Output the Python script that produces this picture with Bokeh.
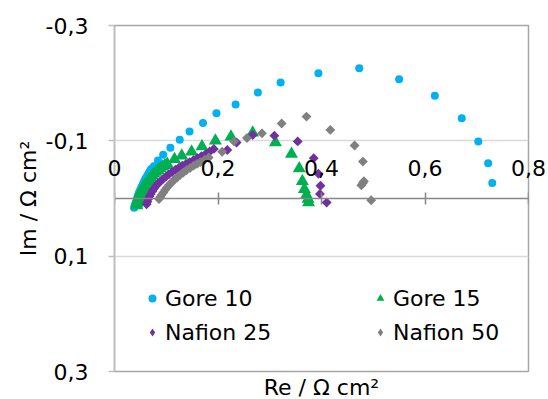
import numpy as np
from bokeh.plotting import figure
from bokeh.core.properties import value
from bokeh.models import (Range1d, FixedTicker, LinearAxis, CustomJSTickFormatter,
                          Legend, LegendItem, ColumnDataSource)
from bokeh.embed import file_html
from bokeh.resources import INLINE

# ---- data (Re, Im) in ohm cm2 ----
gore10_re = [0.730, 0.722, 0.703, 0.671, 0.619, 0.550, 0.473, 0.394, 0.321, 0.277,
             0.234, 0.197, 0.171, 0.145, 0.126, 0.108, 0.094, 0.084, 0.076, 0.071,
             0.069, 0.067, 0.065, 0.063, 0.061, 0.059, 0.0575, 0.056, 0.0545, 0.053,
             0.0515, 0.050, 0.0485, 0.047, 0.046, 0.045, 0.044, 0.043, 0.0415, 0.040,
             0.039, 0.038]
gore10_im = [-0.027, -0.061, -0.099, -0.139, -0.178, -0.207, -0.226, -0.217, -0.201, -0.184,
             -0.163, -0.148, -0.131, -0.116, -0.102, -0.088, -0.076, -0.066, -0.056, -0.051,
             -0.048, -0.045, -0.042, -0.039, -0.036, -0.033, -0.030, -0.027, -0.024, -0.021,
             -0.018, -0.015, -0.012, -0.009, -0.006, -0.003, 0.000, 0.003, 0.0065, 0.010,
             0.013, 0.016]

gore15_re = [0.375, 0.374, 0.371, 0.367, 0.363, 0.357, 0.342, 0.311, 0.267, 0.225,
             0.195, 0.169, 0.149, 0.130, 0.116, 0.102, 0.0975, 0.093, 0.0885, 0.084,
             0.080, 0.076, 0.073, 0.070, 0.067, 0.064, 0.0615, 0.059, 0.057, 0.055,
             0.053, 0.051, 0.0495, 0.048, 0.047, 0.046, 0.045, 0.044, 0.0435, 0.043]
gore15_im = [0.007, 0.001, -0.006, -0.016, -0.030, -0.052, -0.077, -0.097, -0.114, -0.107,
             -0.100, -0.090, -0.081, -0.074, -0.068, -0.060, -0.0575, -0.055, -0.052, -0.049,
             -0.046, -0.043, -0.0395, -0.036, -0.033, -0.030, -0.027, -0.024, -0.021, -0.018,
             -0.015, -0.012, -0.009, -0.006, -0.003, 0.000, 0.003, 0.006, 0.009, 0.012]

nafion25_re = [0.410, 0.397, 0.398, 0.394, 0.385, 0.354, 0.309, 0.267, 0.236, 0.218,
               0.192, 0.184, 0.176, 0.168, 0.160, 0.1525, 0.145, 0.138, 0.131, 0.1245,
               0.118, 0.1115, 0.105, 0.0995, 0.094, 0.089, 0.084, 0.080, 0.076, 0.073,
               0.070, 0.0675, 0.065, 0.0635, 0.062]
nafion25_im = [0.007, -0.008, -0.022, -0.043, -0.070, -0.099, -0.109, -0.110, -0.097, -0.084,
               -0.086, -0.0815, -0.077, -0.0735, -0.070, -0.0665, -0.063, -0.060, -0.057, -0.0535,
               -0.050, -0.046, -0.042, -0.038, -0.034, -0.030, -0.026, -0.0215, -0.017, -0.0125,
               -0.008, -0.0035, 0.001, 0.0055, 0.010]

nafion50_re = [0.496, 0.477, 0.482, 0.480, 0.480, 0.464, 0.417, 0.371, 0.323, 0.285,
               0.256, 0.231, 0.208, 0.182, 0.174, 0.166, 0.1595, 0.153, 0.146, 0.139,
               0.133, 0.127, 0.121, 0.115, 0.110, 0.105, 0.1015, 0.098, 0.0945, 0.091,
               0.0885, 0.086]
nafion50_im = [0.003, -0.023, -0.030, -0.027, -0.064, -0.092, -0.119, -0.142, -0.130, -0.113,
               -0.105, -0.099, -0.081, -0.071, -0.067, -0.063, -0.060, -0.057, -0.053, -0.049,
               -0.045, -0.041, -0.0365, -0.032, -0.0275, -0.023, -0.019, -0.015, -0.0105, -0.006,
               -0.0025, 0.001]

x_ticks = [0, 0.2, 0.4, 0.6, 0.8]
x_tick_labels = ["0", "0,2", "0,4", "0,6", "0,8"]
y_ticks = [-0.3, -0.1, 0.1, 0.3]

FONT = "DejaVu Sans"
FS = "22px"

p = figure(frame_width=414, frame_height=346,
           output_backend="svg", toolbar_location=None,
           x_range=Range1d(0, 0.8), y_range=Range1d(0.3, -0.3),
           x_axis_location=None, y_axis_location="left",
           min_border_left=114, min_border_right=20, min_border_top=25, min_border_bottom=0,
           background_fill_color="white", border_fill_color="white")

p.outline_line_color = "#A6A6A6"
p.outline_line_width = 1.5

fmt = CustomJSTickFormatter(code="return Math.abs(tick) < 1e-9 ? '0' : tick.toFixed(1).replace('.', ',')")

# y axis
yax = p.yaxis[0]
yax.ticker = FixedTicker(ticks=y_ticks)
yax.formatter = fmt
yax.axis_line_color = "#BFBFBF"
yax.axis_line_width = 1.5
yax.major_tick_line_color = "#BFBFBF"
yax.major_tick_line_width = 1.5
yax.major_tick_in = 0
yax.major_tick_out = 6
yax.minor_tick_line_color = None
yax.major_label_standoff = 20
yax.major_label_text_font = FONT
yax.major_label_text_font_size = FS
yax.major_label_text_color = "black"
yax.axis_label = "Im / Ω cm²"
yax.axis_label_text_font = FONT
yax.axis_label_text_font_size = FS
yax.axis_label_text_font_style = "normal"
yax.axis_label_text_color = "black"
yax.axis_label_standoff = 2

p.ygrid.ticker = FixedTicker(ticks=y_ticks)
p.ygrid.grid_line_color = "#D9D9D9"
p.ygrid.grid_line_width = 1.5
p.xgrid.grid_line_color = None

# x axis crossing at Im = 0 (labels drawn separately above the line)
xax = LinearAxis(fixed_location=0, ticker=FixedTicker(ticks=x_ticks), formatter=fmt,
                 axis_line_color="#868686", axis_line_width=1.5,
                 major_tick_line_color="#868686", major_tick_line_width=1.5,
                 major_tick_in=6, major_tick_out=6, minor_tick_line_color=None,
                 major_label_text_alpha=0, major_label_text_font_size=FS)
p.add_layout(xax, "above")

p.text(x=x_ticks, y=[0] * len(x_ticks), text=x_tick_labels, y_offset=-31,
       text_align="center", text_baseline="alphabetic",
       text_font=value(FONT), text_font_size=value(FS), text_color="black", level="overlay")

# axis title below the frame
xlab = LinearAxis(ticker=FixedTicker(ticks=[]), axis_line_color=None,
                  major_tick_out=0, major_tick_in=0, minor_tick_line_color=None,
                  major_label_standoff=0, axis_label="Re / Ω cm²",
                  axis_label_text_font=FONT, axis_label_text_font_size=FS,
                  axis_label_text_font_style="normal", axis_label_text_color="black",
                  axis_label_standoff=3)
p.add_layout(xlab, "below")

C_G10 = "#00B0F0"
C_G15 = "#00B050"
C_N25 = "#7030A0"
C_N50 = "#808080"

p.scatter(gore10_re, gore10_im, marker="circle", size=8, fill_color=C_G10, line_color=None)
p.scatter(gore15_re, gore15_im, marker="triangle", size=13, fill_color=C_G15, line_color=None)
p.scatter(nafion25_re, nafion25_im, marker="square", angle=np.pi / 4, size=7,
          fill_color=C_N25, line_color=None)
p.scatter(nafion50_re, nafion50_im, marker="square", angle=np.pi / 4, size=7,
          fill_color=C_N50, line_color=None)

# legend-only renderers (one off-screen NaN point each)
def dummy(marker, color):
    src = ColumnDataSource(data=dict(x=np.array([np.nan]), y=np.array([np.nan])))
    return p.scatter("x", "y", source=src, marker=marker, fill_color=color, line_color=None)


l_g10 = dummy("circle", C_G10)
l_g15 = dummy("triangle", C_G15)
l_n25 = dummy("diamond", C_N25)
l_n50 = dummy("diamond", C_N50)


def make_legend(items, loc):
    return Legend(items=items, location=loc, border_line_color=None,
                  background_fill_alpha=0, padding=0, margin=0, spacing=8,
                  glyph_height=26, glyph_width=20, label_height=26, label_standoff=3,
                  label_text_font=FONT, label_text_font_size=FS, label_text_color="black")


leg1 = make_legend([LegendItem(label="Gore 10", renderers=[l_g10]),
                    LegendItem(label="Nafion 25", renderers=[l_n25])], (28, 26))
leg2 = make_legend([LegendItem(label="Gore 15", renderers=[l_g15]),
                    LegendItem(label="Nafion 50", renderers=[l_n50])], (256, 26))
p.add_layout(leg1, "center")
p.add_layout(leg2, "center")

open("out.html", "w").write(file_html(p, INLINE))
